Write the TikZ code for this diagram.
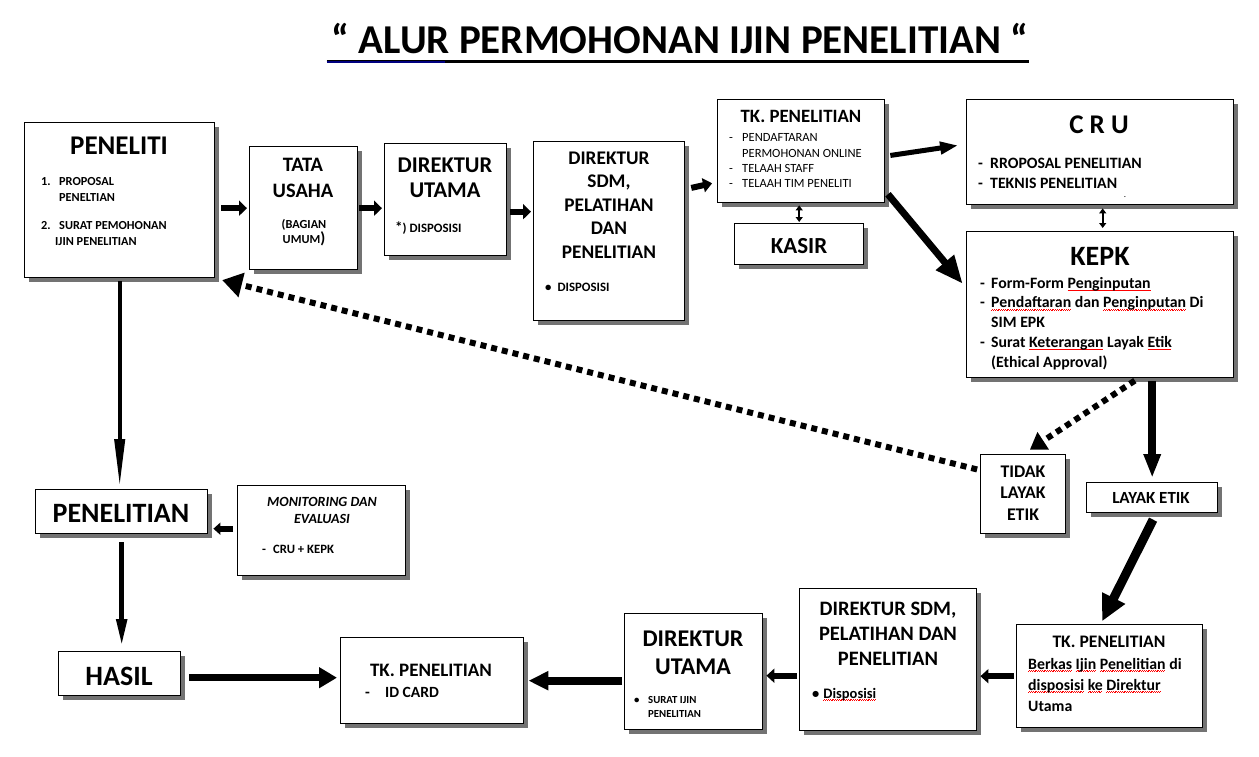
\documentclass[tikz,border=0pt]{standalone}
\usepackage{fontspec}
\setmainfont{Carlito}
\usetikzlibrary{arrows.meta,shadows,calc}
\newsavebox\sqbox
\newcommand\sq[1]{\sbox\sqbox{#1}\rlap{\raisebox{-2.6pt}{\textcolor{red}{\hbox to\wd\sqbox{\leaders\hbox{\rule{0.9pt}{0.45pt}\raise0.8pt\hbox{\rule{0.9pt}{0.45pt}}}\hfill}}}}\usebox\sqbox}
\newcommand\fs[2]{\fontsize{#1}{#2}\selectfont}
\newcommand\bx[5]{\node[bxs, minimum width={(#4-#2)*1pt}, minimum height={(#5-#3)*1pt}] (#1) at (#2,#3) {};}
\tikzset{
  bxs/.style={draw, line width=1.4pt, fill=white, anchor=north west, inner sep=0pt,
     drop shadow={shadow xshift=4pt, shadow yshift=-4pt, fill=black!55, opacity=1}},
  hd/.style={font=\bfseries, align=center, anchor=base, inner sep=0pt},
  ls/.style={font=\bfseries, align=left, anchor=base west, inner sep=0pt},
  sa/.style={line width=6pt, -{Triangle[length=8pt,width=15pt]}},
  dotln/.style={line width=6pt, dash pattern=on 6pt off 5pt},
  dbl/.style={line width=2pt, {Triangle[length=5pt,width=7pt]}-{Triangle[length=5pt,width=7pt]}},
}
\begin{document}
\begin{tikzpicture}[x=1pt,y=-1pt]
\useasboundingbox (0,0) rectangle (1259,757);
\fill[white] (0,0) rectangle (1259,757);

% title
\node[hd, font=\bfseries\fs{41}{41}] (title) at (680,54) {“ ALUR PERMOHONAN IJIN PENELITIAN “};
\draw[line width=3pt] ([shift={(-5pt,-8pt)}]title.base west) -- ([shift={(0pt,-8pt)}]title.base east);
\draw[line width=2.5pt, blue!50!black] ([shift={(-5pt,-8pt)}]title.base west) -- ++(118,0);

% boxes
\bx{peneliti}{24}{122}{214}{277}
\bx{tata}{249}{146}{357}{269}
\bx{dutA}{384}{143}{506}{255}
\bx{dsdmA}{533}{141}{684}{320}
\bx{tkA}{717}{99}{884}{202}
\bx{kasir}{734}{223}{863}{264}
\bx{cru}{966}{99}{1233}{204}
\bx{kepk}{966}{231}{1233}{377}
\bx{tidak}{980}{454}{1065}{533}
\bx{layak}{1086}{482}{1217}{512}
\bx{tkB}{1016}{624}{1202}{727}
\bx{dsdmB}{799}{588}{976}{730}
\bx{dutB}{624}{613}{762}{729}
\bx{tkC}{340}{637}{523}{723}
\bx{hasil}{58}{651}{180}{695}
\bx{penelitian}{35}{489}{207}{533}
\bx{monev}{237}{485}{405}{575}

% texts (multi-line nodes are placed by the baseline of their last line)
\node[hd, font=\bfseries\fs{27}{27}] (tPeneliti) at (119,155) {PENELITI};
\node[ls, font=\bfseries\fs{12.3}{16}] (lPeneliti) at (41,245) {\makebox[18pt][l]{1.}PROPOSAL\\\hspace*{18pt}PENELTIAN\\[12pt]\makebox[18pt][l]{2.}SURAT PEMOHONAN\\\hspace*{14pt}IJIN PENELITIAN};

\node[hd, font=\bfseries\fs{20.5}{26}] (tTata) at (303,197) {TATA\\USAHA};
\node[hd, font=\bfseries\fs{12.3}{15}] (lTata) at (304,243) {(BAGIAN\\UMUM{\fs{16}{15})}};

\node[hd, font=\bfseries\fs{22.5}{25}] (tDutA) at (445,197) {DIREKTUR\\UTAMA};
\node[ls, font=\bfseries\fs{12.8}{13}] (lDutA) at (395,232) {{\fs{15}{13}*}) DISPOSISI};

\node[hd, font=\bfseries\fs{19.3}{23.5}] (tDsdmA) at (609,258) {DIREKTUR\\SDM,\\PELATIHAN\\DAN\\PENELITIAN};
\node[ls, font=\bfseries\fs{12.8}{13}] (lDsdmA) at (545,291) {\textbullet\hspace{6pt}DISPOSISI};

\node[hd, font=\bfseries\fs{18.8}{20}] (tTkA) at (801,123) {TK. PENELITIAN};
\node[ls, font=\fs{12.5}{15.5}] (lTkA) at (729,188) {\makebox[13pt][l]{-}PENDAFTARAN\\\hspace*{13pt}PERMOHONAN ONLINE\\\makebox[13pt][l]{-}TELAAH STAFF\\\makebox[13pt][l]{-}TELAAH TIM PENELITI};

\node[hd, font=\bfseries\fs{23}{23}] (tKasir) at (799,253) {KASIR};

\node[hd, font=\bfseries\fs{27}{27}] (tCru) at (1099,134) {C R U};
\node[ls, font=\bfseries\fs{15.8}{20}] (lCru) at (978,189) {\makebox[12pt][l]{-}RROPOSAL PENELITIAN\\\makebox[12pt][l]{-}TEKNIS PENELITIAN};
\node[hd, font=\fs{9}{9}] (dotCru) at (1125,197) {.};

\node[hd, font=\bfseries\fs{28}{28}] (tKepk) at (1100,265) {KEPK};
\node[ls, font=\bfseries\fs{15.8}{19.7}] (lKepk) at (980,367) {\makebox[11pt][l]{-}Form-Form \sq{Penginputan}\\\makebox[11pt][l]{-}\sq{Pendaftaran} dan \sq{Penginputan} Di\\\hspace*{11pt}SIM EPK\\\makebox[11pt][l]{-}Surat \sq{Keterangan} Layak \sq{Etik}\\\hspace*{11pt}(Ethical Approval)};

\node[hd, font=\bfseries\fs{17.8}{21.5}] (tTidak) at (1023,520) {TIDAK\\LAYAK\\ETIK};
\node[hd, font=\bfseries\fs{17}{17}] (tLayak) at (1151,503) {LAYAK ETIK};

\node[hd, font=\bfseries\fs{17.6}{17}] (tTkB) at (1109,647) {TK. PENELITIAN};
\node[ls, font=\bfseries\fs{15.8}{21}] (lTkB) at (1028,711) {\sq{Berkas} \sq{Ijin} \sq{Penelitian} di\\\sq{disposisi} \sq{ke} \sq{Direktur}\\Utama};

\node[hd, font=\bfseries\fs{20.5}{25}] (tDsdmB) at (888,665) {DIREKTUR SDM,\\PELATIHAN DAN\\PENELITIAN};
\node[ls, font=\bfseries\fs{14.5}{14}] (lDsdmB) at (812,698) {\textbullet\hspace{4pt}\sq{Disposisi}};

\node[hd, font=\bfseries\fs{24}{28}] (tDutB) at (693,674) {DIREKTUR\\UTAMA};
\node[ls, font=\bfseries\fs{10.8}{14}] (lDutB) at (634,717) {\makebox[14pt][l]{\textbullet}SURAT IJIN\\\hspace*{14pt}PENELITIAN};

\node[hd, font=\bfseries\fs{19}{19}] (tTkC) at (431,676) {TK. PENELITIAN};
\node[ls, font=\bfseries\fs{15.6}{14.5}] (lTkC) at (365,697) {\makebox[20pt][l]{-}ID CARD};

\node[hd, font=\bfseries\fs{28}{28}] (tHasil) at (119,685) {HASIL};
\node[hd, font=\bfseries\fs{28}{28}] (tPenelitian) at (121,522) {PENELITIAN};
\node[hd, font=\bfseries\itshape\fs{14}{17}] (tMonev) at (322,523) {MONITORING DAN\\EVALUASI};
\node[ls, font=\bfseries\fs{12.7}{12}] (lMonev) at (262,553) {\makebox[11pt][l]{-}CRU + KEPK};

% connectors
\draw[sa, shorten <=6pt, shorten >=2pt] (peneliti.east |- tata.west) -- (tata.west);
\draw[sa, shorten <=1pt, shorten >=2pt] (tata.east) -- (tata.east -| dutA.west);
\path ([yshift=-12pt]dutA.east) coordinate (p3);
\draw[sa, shorten <=3pt, shorten >=2pt] (p3) -- (p3 -| dsdmA.west);
\draw[line width=6pt, -{Triangle[length=9pt,width=14pt]}, shorten <=6pt, shorten >=5pt] ([yshift=42pt]dsdmA.east) -- ([yshift=-31pt]tkA.west);
\draw[dbl, shorten <=2pt, shorten >=1pt] (kasir.north |- tkA.south) -- (kasir.north);
\draw[line width=5pt, -{Triangle[length=18pt,width=12pt]}, shorten <=5pt, shorten >=8pt] ([yshift=-5pt]tkA.east) -- ([yshift=8pt]cru.west);
\draw[line width=7pt, -{Triangle[length=28pt,width=22pt]}, shorten <=4pt, shorten >=5pt] ([yshift=-40pt]tkA.east) -- ([yshift=17pt]kepk.west);
\draw[dbl, shorten <=3pt, shorten >=3pt] ([xshift=2.5pt]cru.south) -- ([xshift=2.5pt]kepk.north);
\draw[dotln, -{Triangle[length=16pt,width=20pt]}, shorten <=4pt, shorten >=8pt] ([xshift=38pt]kepk.south) -- (tidak.north);
\draw[line width=8pt, -{Triangle[length=24pt,width=16pt]}, shorten <=3pt, shorten >=4pt] (layak.north |- kepk.south) -- (layak.north);
\draw[dotln, -{Triangle[length=20pt,width=24pt]}, shorten <=3pt, shorten >=7pt] ([yshift=24pt]tidak.west) -- (peneliti.south east);
\draw[line width=9pt, -{Triangle[length=26pt,width=24pt]}, shorten <=7pt, shorten >=3pt] ([xshift=4pt]layak.south) -- ([xshift=-9pt]tkB.north);
\draw[line width=6pt, -{Triangle[length=8pt,width=14pt]}, shorten <=2pt, shorten >=3pt] (tkB.west) -- (tkB.west -| dsdmB.east);
\path ([yshift=-4pt]dutB.east) coordinate (p14);
\draw[line width=6pt, -{Triangle[length=8pt,width=14pt]}, shorten <=2pt, shorten >=3pt] (p14 -| dsdmB.west) -- (p14);
\draw[line width=8pt, -{Triangle[length=20pt,width=18pt]}, shorten <=2pt, shorten >=4pt] (dutB.west |- tkC.east) -- (tkC.east);
\path ([yshift=-4pt]hasil.east) coordinate (p16);
\draw[line width=7pt, -{Triangle[length=18pt,width=20pt]}, shorten <=8pt, shorten >=3pt] (p16) -- (p16 -| tkC.west);
\draw[line width=4pt, -{Triangle[length=48pt,width=10pt]}, shorten <=3pt, shorten >=2pt] (peneliti.south) -- (peneliti.south |- penelitian.north);
\draw[line width=5pt, -{Triangle[length=28pt,width=10pt]}, shorten <=8pt, shorten >=4pt] (penelitian.south) -- (penelitian.south |- hasil.north);
\path ([yshift=2pt]monev.west) coordinate (p19);
\draw[line width=6pt, -{Triangle[length=7pt,width=12pt]}, shorten <=4pt, shorten >=5pt] (p19) -- (p19 -| penelitian.east);
\end{tikzpicture}
\end{document}
